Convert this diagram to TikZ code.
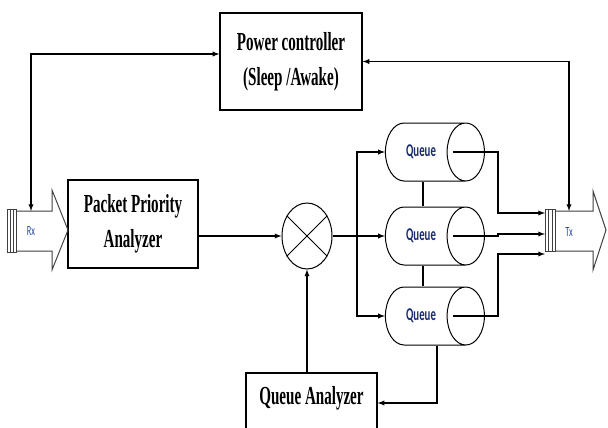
\documentclass[tikz,border=0pt]{standalone}
\usepackage{fontspec}
\usetikzlibrary{shapes.geometric}
\newfontfamily\boxfont[FakeStretch=0.58]{Liberation Serif}
\newfontfamily\queuefont[FakeStretch=0.6]{Carlito}
\definecolor{queuetext}{RGB}{25,45,110}
\definecolor{rxtext}{RGB}{45,75,165}
\tikzset{
  block/.style={draw, line width=1.2pt, align=center, font=\boxfont\bfseries\fontsize{26}{35}\selectfont},
  queue/.style={cylinder, draw, line width=1pt, minimum width=58pt, minimum height=99pt, aspect=1.8, font=\queuefont\bfseries\fontsize{18}{20}\selectfont, text=queuetext},
  link/.style={line width=1.3pt, >=latex},
  port/.style={line width=1pt, black!75},
  portlabel/.style={font=\queuefont\fontsize{14}{15}\selectfont, text=rxtext},
}
\begin{document}
\begin{tikzpicture}[x=1pt,y=-1pt]
            \path[use as bounding box, fill=white] (0,0) rectangle (608,428);
            \node[block, minimum width=142pt, minimum height=97pt] (pc) at (291,61.5) {Power controller\\(Sleep /Awake)};
            \node[block, minimum width=130pt, minimum height=88pt] (ppa) at (133,224) {Packet Priority\\Analyzer};
            \node[block, minimum width=131pt, minimum height=60pt, text depth=16pt] (qa) at (311.5,403) {Queue Analyzer};
            \node[draw, ellipse, line width=1pt, minimum width=50pt, minimum height=66pt] (mix) at (307,236) {};
            \draw[line width=1pt] (mix.135) -- (mix.-45) (mix.45) -- (mix.-135);
            \node[queue] (q1) at (421,152) {Queue};
            \node[queue] (q2) at (421,236) {Queue};
            \node[queue] (q3) at (421,316) {Queue};
            \draw[port] (7,209) rectangle (16,252) (10,209) -- (10,252) (13,209) -- (13,252);
            \draw[port] (16,211) -- (52,211) -- (52,190) -- (68,230) -- (52,270) -- (52,251) -- (16,251);
            \node[portlabel] (rx) at (31,231) {Rx};
            \draw[port] (545,209) rectangle (555,251) (548.5,209) -- (548.5,251) (552,209) -- (552,251);
            \draw[port] (555,211) -- (593,211) -- (593,191) -- (606,230) -- (593,270) -- (593,251) -- (555,251);
            \node[portlabel] (tx) at (569,232) {Tx};
            \coordinate (rxin) at (31,211);
            \coordinate (txin) at (569,211);
            \coordinate (bus) at (357,236);
            \coordinate (txa) at (545,213);
            \coordinate (txb) at (545,234);
            \coordinate (txc) at (545,254);
            \draw[link,<->] (rxin) |- ([yshift=7.5pt]pc.west);
            \draw[link,<->] (txin) |- (pc.east);
            \draw[link,->] (ppa.east |- mix.west) -- (mix.west);
            \draw[link,->] (qa.north -| mix.south) -- (mix.south);
            \draw[link,->] (mix.east) -- (q2.west);
            \draw[link,->] (bus) |- (q1.west);
            \draw[link,->] (bus) |- (q3.west);
            \draw[link] ([xshift=2pt]q1.south) -- ([xshift=2pt]q2.north);
            \draw[link] ([xshift=2pt]q2.south) -- ([xshift=2pt]q3.north);
            \draw[link,->] ([xshift=-32pt]q1.east) -- ++(45,0) |- (txa);
            \draw[link,->] ([xshift=-32pt]q2.east) -- ++(45,0) |- (txb);
            \draw[link,->] ([xshift=-32pt]q3.east) -- ++(45,0) |- (txc);
            \draw[link,->] ([xshift=16pt]q3.south) |- (qa.east);
\end{tikzpicture}
\end{document}
